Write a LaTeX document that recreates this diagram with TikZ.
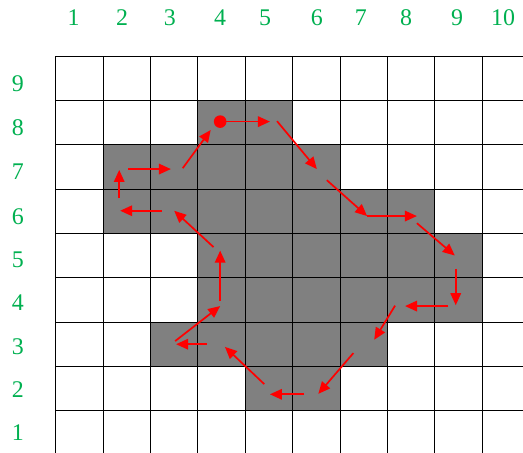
\documentclass[tikz,border=0pt]{standalone}
\usepackage{fontspec}
\setmainfont{Liberation Serif}
\usepackage{tikz}
\usetikzlibrary{arrows.meta}
\definecolor{chgreen}{HTML}{00B050}
\definecolor{chred}{HTML}{FF0000}
\definecolor{chgray}{HTML}{808080}
\tikzset{
  >={Triangle[length=12bp,width=10.5bp]},
  gridline/.style={black, line width=0.9bp},
  region/.style={fill=chgray},
  chainarrow/.style={chred, line width=1.7bp, ->},
  numlbl/.style={font=\fontsize{24}{28}\selectfont, text=chgreen, inner sep=0pt},
}

\begin{document}
\begin{tikzpicture}[x=47.4bp, y=44.34bp]
\useasboundingbox (-1.175,0.047) rectangle (9.859,10.263);
\clip (-1.175,0.047) rectangle (9.859,10.263);
% shaded region, one strip per row: row/first column/last column
\foreach \r/\from/\to in {8/4/5, 7/2/6, 6/2/8, 5/4/9, 4/4/9, 3/3/7, 2/5/6}
  \fill[region] (\from-1,\r-1) rectangle (\to,\r);
\draw[gridline, step=1] (0,0) grid (10,9);
% column and row numbers
\foreach \c/\x in {1/0.38, 2/1.40, 3/2.41, 4/3.47, 5/4.42, 6/5.51, 7/6.44, 8/7.39, 9/8.47, 10/9.44}
  \node[numlbl] (col\c) at (\x,9.86) {\c};
\foreach \r/\y in {9/8.37, 8/7.38, 7/6.38, 6/5.37, 5/4.40, 4/3.43, 3/2.44, 2/1.47, 1/0.50}
  \node[numlbl] (row\r) at (-0.80,\y) {\r};
% boundary chain, start point
\coordinate (start) at (3.47,7.52);
\fill[chred] (start) circle (6.3bp);
\foreach \xa/\ya/\xb/\yb in {3.57/7.52/4.52/7.52, 4.67/7.53/5.51/6.45, 5.72/6.20/6.57/5.39,
    6.57/5.39/7.62/5.39, 7.62/5.23/8.42/4.50, 8.44/4.20/8.44/3.38, 8.28/3.36/7.37/3.36,
    7.16/3.37/6.72/2.60, 6.28/2.30/5.54/1.38, 5.24/1.37/4.52/1.37, 4.40/1.60/3.57/2.44,
    3.19/2.50/2.54/2.50, 2.52/2.57/3.47/3.36, 3.47/3.47/3.47/4.61, 3.33/4.69/2.50/5.51,
    2.24/5.51/1.36/5.51, 1.34/5.79/1.34/6.43, 1.53/6.45/2.43/6.45, 2.68/6.47/3.27/7.33}
  \draw[chainarrow] (\xa,\ya) -- (\xb,\yb);
\end{tikzpicture}
\end{document}
